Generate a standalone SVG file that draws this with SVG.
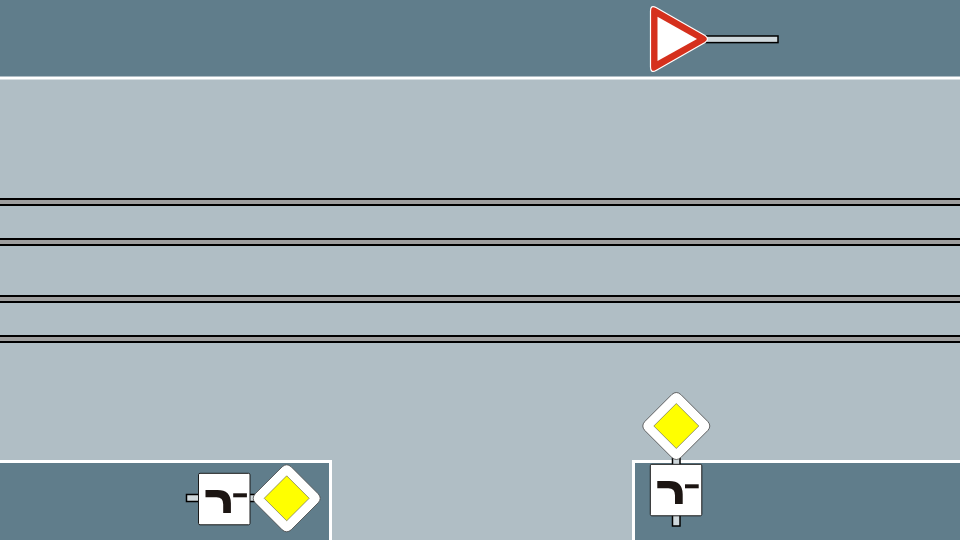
<svg xmlns="http://www.w3.org/2000/svg" width="960" height="540" viewBox="0 0 960 540">
<style>
.bank{fill:#607d8b;stroke:#fff;stroke-width:3}
.rail{fill:#9e9e9e;stroke:#000;stroke-width:2}
.post{fill:#cfd8dc;stroke:#000;stroke-width:1.500}
.plate{fill:#fff;stroke:#1a1a1a;stroke-width:1;stroke-linejoin:round}
.dia{fill:#fff;stroke:#444;stroke-width:.8;stroke-linejoin:round}
.yel{fill:#ffff00;stroke:#555;stroke-width:.6}
.sym{fill:#1c1512}
</style>
<defs>
<g id="priority">
<path class="dia" d="M-4.500-31.500Q0-35.500 4.500-31.500L31.500-4.500Q35.500 0 31.500 4.500L4.500 31.500Q0 35.500-4.500 31.500L-31.500 4.500Q-35.500 0-31.500-4.500Z"/>
<path class="yel" d="M0-22.500L22.500 0L0 22.500L-22.500 0Z"/>
</g>
<g id="plate">
<rect class="plate" x="0" y="0" width="51.500" height="51.500" rx="1.500"/>
<path class="sym" d="M7 16.700H19Q32.400 16.700 32.400 30V39.700H24.700V31Q24.700 24 18 24H7Z"/>
<rect class="sym" x="34.700" y="20" width="13.700" height="4"/>
</g>
</defs>
<rect id="road" width="960" height="540" fill="#b0bec5"/>
<g id="banks">
<rect class="bank" x="-5" y="-5" width="970" height="83"/>
<rect class="bank" x="-5" y="461.500" width="335.500" height="85"/>
<rect class="bank" x="633.500" y="461.500" width="335" height="85"/>
</g>
<g id="rails">
<rect class="rail" x="-5" y="199" width="970" height="6"/>
<rect class="rail" x="-5" y="239" width="970" height="6"/>
<rect class="rail" x="-5" y="296" width="970" height="6"/>
<rect class="rail" x="-5" y="336" width="970" height="6"/>
</g>
<g id="yield-sign">
<rect class="post" x="706" y="36" width="72" height="6.600"/>
<path d="M650.500 11Q650.500 4.500 656 7.500L705 35.500Q710 39 705 42.500L656 70.500Q650.500 73.500 650.500 67Z" fill="#d5301d" stroke="#fff" stroke-width="1.200" stroke-linejoin="round"/>
<path d="M657.500 16.700L697 39L657.500 61Z" fill="#fff"/>
</g>
<g id="priority-right">
<rect class="post" x="672.500" y="455" width="7.500" height="71"/>
<use href="#priority" x="676.300" y="426"/>
<use href="#plate" x="650.300" y="464.300"/>
</g>
<g id="priority-left">
<rect class="post" x="186.500" y="494.500" width="72" height="7"/>
<use href="#plate" x="198.500" y="473.300"/>
<use href="#priority" x="286.700" y="498.300"/>
</g>
</svg>
